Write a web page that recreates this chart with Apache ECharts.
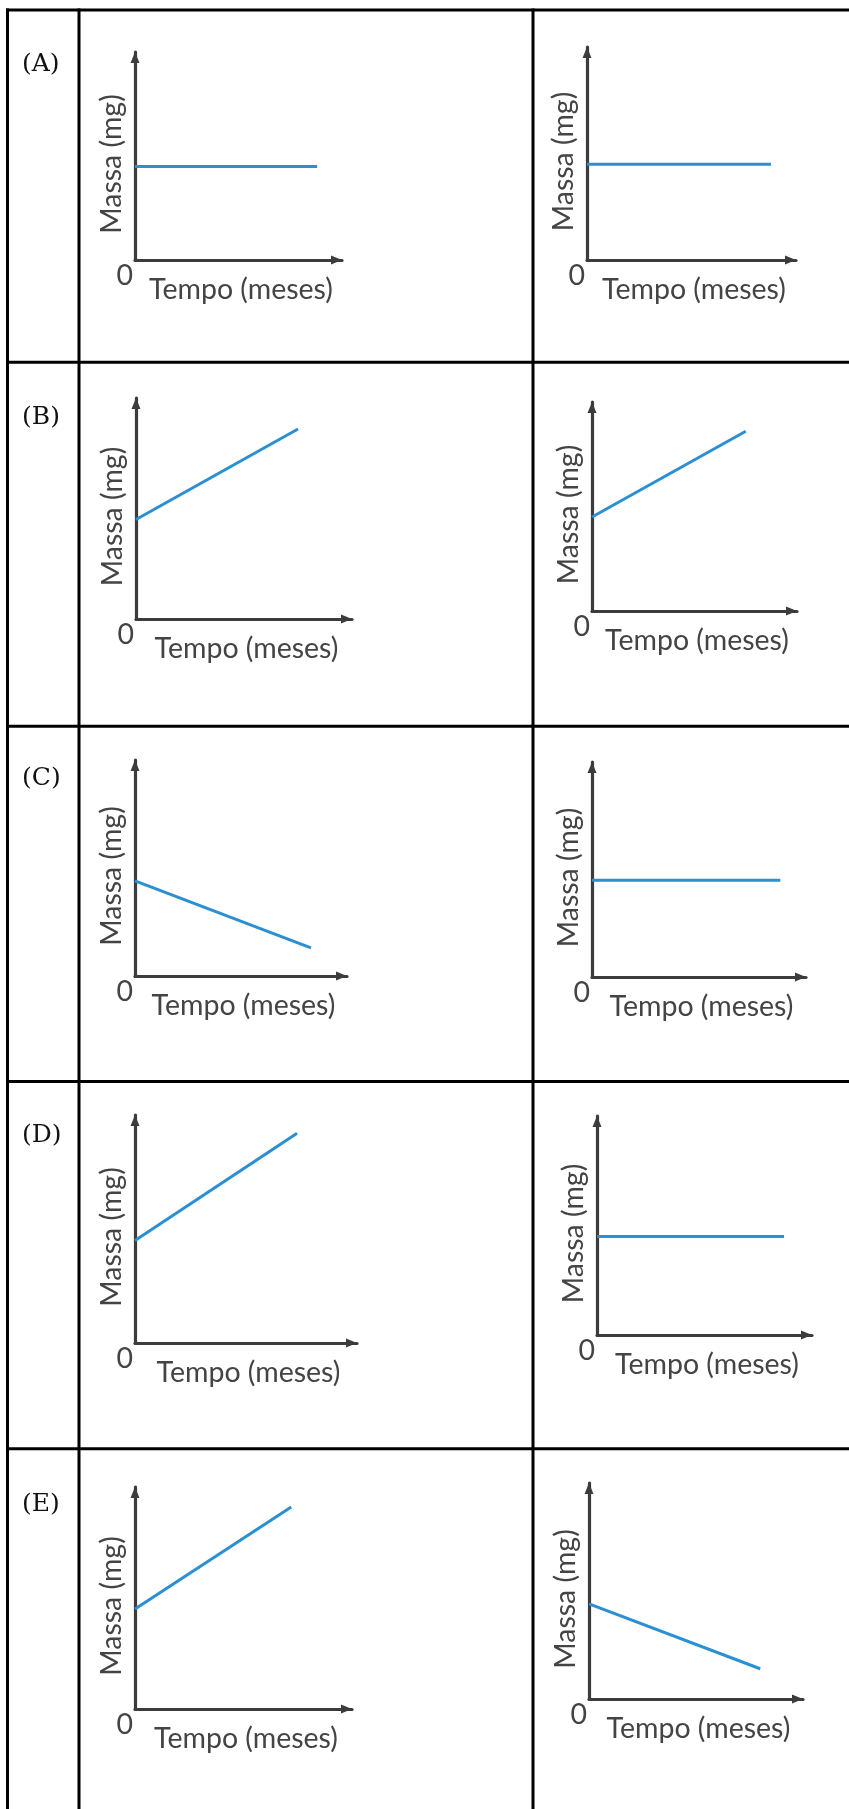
<!DOCTYPE html>
<html>
<head>
<meta charset="utf-8">
<script src="https://cdn.jsdelivr.net/npm/echarts@6/dist/echarts.min.js"></script>
<style>
html,body{margin:0;padding:0;background:#fff;}
#chart{width:849px;height:1809px;}
</style>
</head>
<body>
<div id="chart"></div>
<script>
// ---- data ----
const panelLabels = ['(A)', '(B)', '(C)', '(D)', '(E)'];
const xAxisName = 'Tempo (meses)';
const yAxisName = 'Massa (mg)';
const originLabel = '0';
// left column graphs: mass at t=0, mass at end, end time (relative units 0-10)
const leftMassStart = [4.5, 4.5, 4.4, 4.5, 4.5];
const leftMassEnd   = [4.5, 8.6, 1.3, 9.2, 9.1];
const leftTimeEnd   = [8.8, 7.5, 8.3, 7.3, 7.2];
// right column graphs
const rightMassStart = [4.5, 4.5, 4.5, 4.5, 4.4];
const rightMassEnd   = [4.5, 8.6, 4.5, 4.5, 1.4];
const rightTimeEnd   = [8.8, 7.5, 8.8, 8.7, 8.0];

// ---- layout (positions only) ----
const leftGrids = [
  [135, 52, 207, 208],
  [136, 398, 216, 221],
  [135, 760, 212, 216],
  [135, 1115, 222, 228],
  [135, 1487, 217, 222]
];
const rightGrids = [
  [587, 47, 209, 213],
  [592, 402, 205, 209],
  [592, 762, 214, 215],
  [597, 1116, 215, 219],
  [589, 1483, 214, 216]
];
const rowLinesY = [10, 362.3, 726.3, 1081.5, 1448.7];
const colLinesX = [7.5, 79, 533];
const labelCenterY = [64, 417, 778, 1135, 1504];

const AXIS_COLOR = '#3c3c3c';
const TEXT_COLOR = '#444444';
const LINE_COLOR = '#2b8fd3';
const FONT = 'Lato';
const FS = 28.5;

const grids = [], xAxes = [], yAxes = [], series = [];
function addPanel(g, start, end, tEnd) {
  const i = grids.length;
  grids.push({left: g[0], top: g[1], width: g[2], height: g[3], containLabel: false});
  const axisLine = {
    show: true,
    onZero: false,
    symbol: ['none', 'triangle'],
    symbolSize: [9, 11],
    symbolOffset: [0, -5.5],
    lineStyle: {color: AXIS_COLOR, width: 3.2}
  };
  xAxes.push({
    type: 'value', gridIndex: i, min: 0, max: 10, interval: 10,
    axisLine: axisLine,
    axisTick: {show: false},
    splitLine: {show: false},
    axisLabel: {
      show: true, margin: 1, align: 'right',
      color: TEXT_COLOR, fontFamily: FONT, fontSize: FS,
      padding: [0, 2, 0, 0],
      formatter: function (v) { return v === 0 ? originLabel : ''; }
    },
    name: xAxisName, nameLocation: 'middle', nameGap: 15, nameMoveOverlap: false,
    nameTextStyle: {color: TEXT_COLOR, fontFamily: FONT, fontSize: FS, padding: [0, 0, 0, 5]}
  });
  yAxes.push({
    type: 'value', gridIndex: i, min: 0, max: 10, interval: 10,
    axisLine: axisLine,
    axisTick: {show: false},
    splitLine: {show: false},
    axisLabel: {show: false},
    name: yAxisName, nameLocation: 'middle', nameRotate: 90, nameGap: 9, nameMoveOverlap: false,
    nameTextStyle: {color: TEXT_COLOR, fontFamily: FONT, fontSize: FS, padding: [0, 16, 0, 0]}
  });
  series.push({
    type: 'line', xAxisIndex: i, yAxisIndex: i,
    data: [[0, start], [tEnd, end]],
    symbol: 'none', silent: true,
    lineStyle: {color: LINE_COLOR, width: 3}
  });
}
for (let r = 0; r < panelLabels.length; r++) {
  addPanel(leftGrids[r], leftMassStart[r], leftMassEnd[r], leftTimeEnd[r]);
  addPanel(rightGrids[r], rightMassStart[r], rightMassEnd[r], rightTimeEnd[r]);
}

const graphics = [];
rowLinesY.forEach(function (y) {
  graphics.push({type: 'line', shape: {x1: 6, y1: y, x2: 849, y2: y}, style: {stroke: '#000', lineWidth: 3}, silent: true});
});
colLinesX.forEach(function (x) {
  graphics.push({type: 'line', shape: {x1: x, y1: 8.5, x2: x, y2: 1809}, style: {stroke: '#000', lineWidth: 3}, silent: true});
});
panelLabels.forEach(function (t, r) {
  graphics.push({type: 'text', x: 22, y: labelCenterY[r], silent: true,
    style: {text: t, fill: '#111', fontFamily: 'DejaVu Serif', fontSize: 25, verticalAlign: 'middle', align: 'left'}});
});

const chart = echarts.init(document.getElementById('chart'));
chart.setOption({
  animation: false,
  backgroundColor: '#fff',
  grid: grids,
  xAxis: xAxes,
  yAxis: yAxes,
  series: series,
  graphic: graphics
});
</script>
</body>
</html>
